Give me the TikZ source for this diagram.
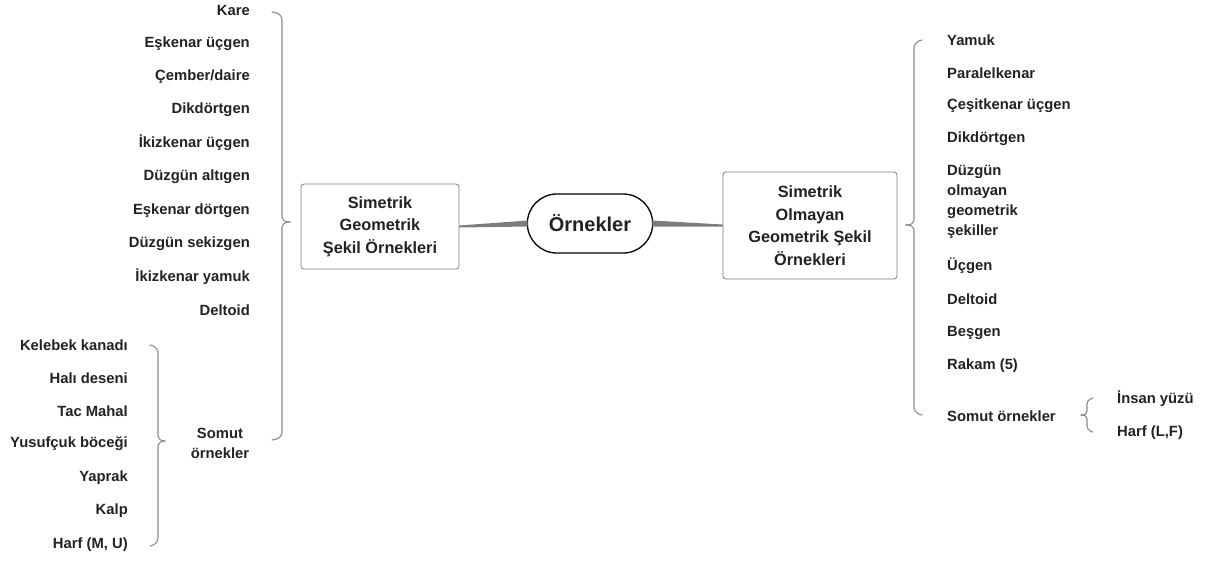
\documentclass[tikz,border=0pt]{standalone}
\usepackage{fontspec}
\setmainfont{Liberation Sans}
\usetikzlibrary{calc,shapes.misc}
\definecolor{txt}{HTML}{222222}
\definecolor{frame}{HTML}{7A7A7A}
\definecolor{brc}{HTML}{8A8A8A}
\definecolor{link}{HTML}{7C7C7C}
\begin{document}
\begin{tikzpicture}[x=1pt,y=-1pt,
  item/.style={inner sep=0pt,font=\bfseries\fontsize{14.8}{20}\selectfont,text=txt},
  litem/.style={item,anchor=east},
  ritem/.style={item,anchor=west,align=left},
  topic/.style={draw=frame,line width=0.8pt,rounded corners=3pt,fill=white,
    font=\bfseries\fontsize{16.3}{22.5}\selectfont,align=center,text=txt},
  root/.style={draw=black,line width=1.3pt,rounded rectangle,fill=white,
    font=\bfseries\fontsize{20}{22}\selectfont,text=txt},
  brace/.style={draw=brc,line width=1.1pt,rounded corners=6pt,line cap=round},
  link/.style={fill=link}]
\useasboundingbox (0,0) rectangle (1210,563);

% central topic and the two branches
\node[root,minimum width=132pt,minimum height=59pt] (root) at (590,223.5) {Örnekler};
\node[topic,minimum width=158pt,minimum height=85pt] (sym) at (380,226.5)
  {Simetrik\\Geometrik\\Şekil Örnekleri};
\node[topic,minimum width=174pt,minimum height=107pt] (asym) at (810,225.5)
  {Simetrik\\Olmayan\\Geometrik Şekil\\Örnekleri};

% tapered links, widest at the root
\fill[link] ($(sym.east)+(0,-1)$) -- ($(root.west)+(1,-3)$) -- ($(root.west)+(1,3)$) -- ($(sym.east)+(0,1)$) -- cycle;
\fill[link] ($(asym.west)+(0,-1)$) -- ($(root.east)+(-1,-3)$) -- ($(root.east)+(-1,3)$) -- ($(asym.west)+(0,1)$) -- cycle;

% symmetric shapes
\node[litem] (l1) at (250,10) {Kare};
\node[litem] (l2) at (250,44) {Eşkenar üçgen};
\node[litem] (l3) at (250,77) {Çember/daire};
\node[litem] (l4) at (250,110) {Dikdörtgen};
\node[litem] (l5) at (250,143) {İkizkenar üçgen};
\node[litem] (l6) at (250,177) {Düzgün altıgen};
\node[litem] (l7) at (250,211) {Eşkenar dörtgen};
\node[litem] (l8) at (250,244) {Düzgün sekizgen};
\node[litem] (l9) at (250,277) {İkizkenar yamuk};
\node[litem] (l10) at (250,310) {Deltoid};
\node[item,align=center] (lsom) at (220,443) {Somut\\örnekler};

\node[litem] (k1) at (128,345) {Kelebek kanadı};
\node[litem] (k2) at (128,378) {Halı deseni};
\node[litem] (k3) at (128,411) {Tac Mahal};
\node[litem] (k4) at (128,444) {Yusufçuk böceği};
\node[litem] (k5) at (128,478) {Yaprak};
\node[litem] (k6) at (128,511) {Kalp};
\node[litem] (k7) at (128,545) {Harf (M, U)};

% asymmetric shapes
\node[ritem] (r1) at (947,40) {Yamuk};
\node[ritem] (r2) at (947,73) {Paralelkenar};
\node[ritem] (r3) at (947,106) {Çeşitkenar üçgen};
\node[ritem] (r4) at (947,139) {Dikdörtgen};
\node[ritem] (r5) at (947,202) {Düzgün\\olmayan\\geometrik\\şekiller};
\node[ritem] (r6) at (947,266) {Üçgen};
\node[ritem] (r7) at (947,299) {Deltoid};
\node[ritem] (r8) at (947,333) {Beşgen};
\node[ritem] (r9) at (947,366) {Rakam (5)};
\node[ritem] (r10) at (947,416) {Somut örnekler};
\node[ritem] (s1) at (1117,399) {İnsan yüzü};
\node[ritem] (s2) at (1117,433) {Harf (L,F)};

% braces
\draw[brace] (272,12) -- (282,14) -- (282,222) -- (290,222);
\draw[brace] (290,222) -- (282,222) -- (282,438) -- (272,440);

\draw[brace] (150,345) -- (158,347) -- (158,441) -- (165,441);
\draw[brace] (165,441) -- (158,441) -- (158,544) -- (150,546);

\draw[brace] (922,40) -- (914,42) -- (914,225) -- (906,225);
\draw[brace] (906,225) -- (914,225) -- (914,413) -- (922,415);

\draw[brace,rounded corners=4pt] (1093,398) -- (1087,400) -- (1087,415) -- (1081,415);
\draw[brace,rounded corners=4pt] (1081,415) -- (1087,415) -- (1087,430) -- (1093,432);
\end{tikzpicture}
\end{document}
